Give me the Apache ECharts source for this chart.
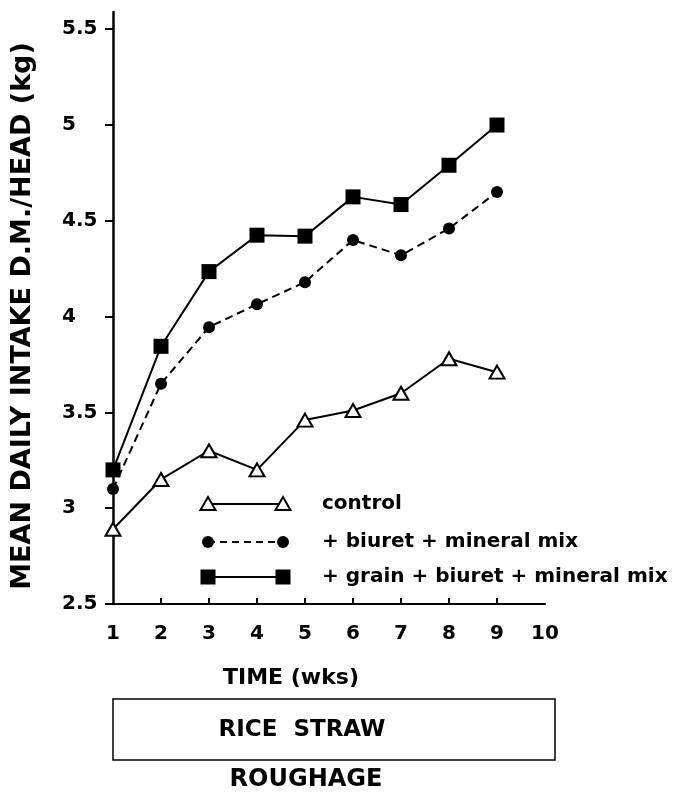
<!DOCTYPE html>
<html>
<head>
<meta charset="utf-8">
<script src="https://cdn.jsdelivr.net/npm/echarts@6/dist/echarts.min.js"></script>
<style>html,body{margin:0;padding:0;background:#fff}#c{width:681px;height:797px}</style>
</head>
<body>
<div id="c"></div>
<script>
const weeks = [1, 2, 3, 4, 5, 6, 7, 8, 9];
const control = [2.89, 3.15, 3.30, 3.20, 3.46, 3.51, 3.60, 3.78, 3.71];
const biuretMineral = [3.10, 3.65, 3.945, 4.065, 4.18, 4.40, 4.32, 4.46, 4.65];
const grainBiuretMineral = [3.20, 3.845, 4.235, 4.425, 4.42, 4.625, 4.585, 4.79, 5.00];
const yTicks = [2.5, 3, 3.5, 4, 4.5, 5, 5.5];
const xTicks = [1, 2, 3, 4, 5, 6, 7, 8, 9, 10];
const seriesNames = ['control', '+ biuret + mineral mix', '+ grain + biuret + mineral mix'];
const yAxisTitle = 'MEAN DAILY INTAKE D.M./HEAD (kg)';
const xAxisTitle = 'TIME (wks)';
const boxLabel = 'RICE  STRAW';
const belowLabel = 'ROUGHAGE';

const FONT = '"DejaVu Sans", sans-serif';
const pair = (xs, ys) => xs.map((x, i) => [x, ys[i]]);

const chart = echarts.init(document.getElementById('c'), null, {renderer: 'canvas'});

const legendRows = [
  {y: 504, symbol: 'tri', dash: false, name: seriesNames[0]},
  {y: 542, symbol: 'circ', dash: true, name: seriesNames[1]},
  {y: 577, symbol: 'sq', dash: false, name: seriesNames[2]}
];
const lx1 = 208, lx2 = 283, ltx = 322;
const legendGraphics = [];
legendRows.forEach(r => {
  legendGraphics.push({
    type: 'line', shape: {x1: lx1, y1: r.y, x2: lx2, y2: r.y},
    style: {stroke: '#000', lineWidth: 1.8, lineDash: r.dash ? [7, 5] : null}, z: 10
  });
  [lx1, lx2].forEach(cx => {
    if (r.symbol === 'tri') {
      legendGraphics.push({type: 'polygon', shape: {points: [[cx, r.y - 7], [cx - 7.5, r.y + 6], [cx + 7.5, r.y + 6]]},
        style: {fill: '#fff', stroke: '#000', lineWidth: 2}, z: 11});
    } else if (r.symbol === 'circ') {
      legendGraphics.push({type: 'circle', shape: {cx: cx, cy: r.y, r: 6}, style: {fill: '#000'}, z: 11});
    } else {
      legendGraphics.push({type: 'rect', shape: {x: cx - 7.5, y: r.y - 7.5, width: 15, height: 15}, style: {fill: '#000'}, z: 11});
    }
  });
  legendGraphics.push({
    type: 'text', x: ltx, y: r.y,
    style: {text: r.name, font: 'bold 20px ' + FONT, fill: '#000', verticalAlign: 'middle'}, z: 11
  });
});

const option = {
  backgroundColor: '#fff',
  animation: false,
  grid: {left: 113, right: 136, top: 12, bottom: 193, containLabel: false, outerBoundsMode: 'none'},
  xAxis: {
    type: 'value', min: 1, max: 10, interval: 1,
    axisLine: {show: true, lineStyle: {color: '#000', width: 2}},
    axisTick: {show: true, inside: true, length: 6, lineStyle: {color: '#000', width: 2}, customValues: xTicks.slice(1, 9)},
    axisLabel: {color: '#000', fontFamily: FONT, fontWeight: 'bold', fontSize: 20, margin: 20, customValues: xTicks},
    splitLine: {show: false}
  },
  yAxis: {
    type: 'value', min: 2.5, max: 5.59,
    axisLine: {show: true, lineStyle: {color: '#000', width: 2.5}},
    axisTick: {show: true, inside: false, length: 8, lineStyle: {color: '#000', width: 2}, customValues: yTicks},
    axisLabel: {color: '#000', fontFamily: FONT, fontWeight: 'bold', fontSize: 20, margin: 51, align: 'left', customValues: yTicks,
      formatter: v => String(v)},
    splitLine: {show: false},
    name: yAxisTitle, nameLocation: 'middle', nameGap: 77, nameRotate: 90,
    nameTextStyle: {color: '#000', fontFamily: FONT, fontWeight: 'bold', fontSize: 27, padding: [0, 16, 0, 0]}
  },
  series: [
    {
      name: seriesNames[0], type: 'line', data: pair(weeks, control),
      symbol: 'triangle', symbolSize: [15, 13],
      lineStyle: {color: '#000', width: 2},
      itemStyle: {color: '#fff', borderColor: '#000', borderWidth: 2}, z: 3
    },
    {
      name: seriesNames[1], type: 'line', data: pair(weeks, biuretMineral),
      symbol: 'circle', symbolSize: 12,
      lineStyle: {color: '#000', width: 2, type: [8, 5]},
      itemStyle: {color: '#000'}, z: 4
    },
    {
      name: seriesNames[2], type: 'line', data: pair(weeks, grainBiuretMineral),
      symbol: 'rect', symbolSize: 15,
      lineStyle: {color: '#000', width: 2},
      itemStyle: {color: '#000'}, z: 5
    }
  ],
  graphic: legendGraphics.concat([
    {type: 'text', style: {text: xAxisTitle, font: 'bold 22px ' + FONT, fill: '#000', x: 291, y: 678, align: 'center', verticalAlign: 'middle'}},
    {type: 'rect', shape: {x: 113, y: 699, width: 442, height: 61}, style: {fill: 'none', stroke: '#000', lineWidth: 1.5}},
    {type: 'text', style: {text: boxLabel, font: 'bold 23px ' + FONT, fill: '#000', x: 302, y: 730, align: 'center', verticalAlign: 'middle'}},
    {type: 'text', style: {text: belowLabel, font: 'bold 24px ' + FONT, fill: '#000', x: 306, y: 780, align: 'center', verticalAlign: 'middle'}}
  ])
};
chart.setOption(option);
</script>
</body>
</html>
